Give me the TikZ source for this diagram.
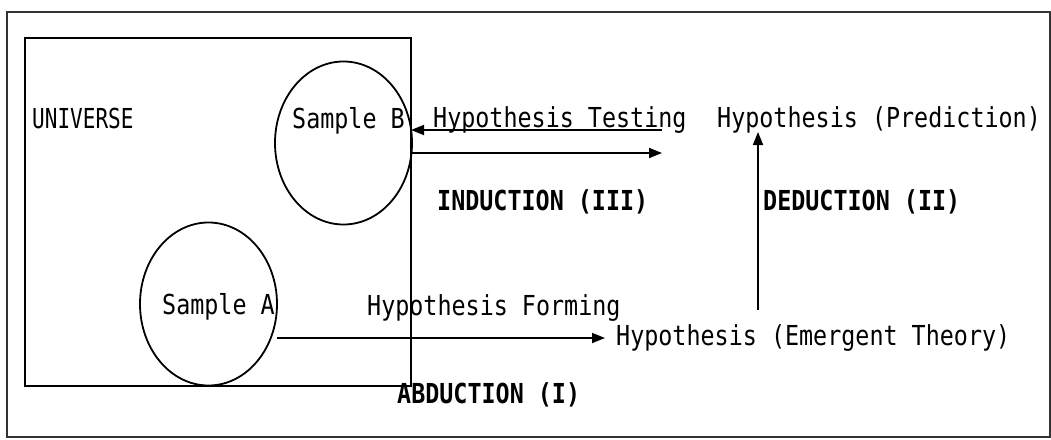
\documentclass[tikz,border=0pt]{standalone}
\usepackage{fontspec}
\newfontfamily\monofam{DejaVu Sans Mono}[FakeStretch=0.85]
\usetikzlibrary{arrows.meta,shapes.geometric}
\begin{document}
\begin{tikzpicture}[x=1pt,y=-1pt,
  label/.style={inner sep=0pt,anchor=base west,font=\monofam\fontsize{27.5}{31}\selectfont},
  boldlabel/.style={label,font=\monofam\bfseries\fontsize{27.5}{31}\selectfont},
  shapeline/.style={line width=1.8pt,black},
  sample/.style={shapeline,draw,ellipse,inner sep=0pt,minimum width=137pt,minimum height=163pt},
  flow/.style={line width=1.8pt,black,-{Triangle[length=13pt,width=10pt]}}]
\useasboundingbox (0,0) rectangle (1051,439);
% outer frame
\draw[line width=2.4pt,black!80] (7,12) rectangle (1050,437);
% universe and the two samples
\node[shapeline,draw,rectangle,inner sep=0pt,minimum width=386pt,minimum height=348pt] (universeBox) at (218,212) {};
\node[sample] (circB) at (343.5,143) {};
\node[sample] (circA) at (208.5,304) {};
% labels
\node[label,xscale=0.9] (universe) at (32,128) {UNIVERSE};
\node[label] (sampleB) at (292,128) {Sample B};
\node[label] (testing) at (433,127) {Hypothesis Testing};
\node[label] (prediction) at (717,127) {Hypothesis (Prediction)};
\node[boldlabel] (induction) at (437,210) {INDUCTION (III)};
\node[boldlabel] (deduction) at (763,210) {DEDUCTION (II)};
\node[label] (sampleA) at (162,314) {Sample A};
\node[label] (forming) at (367,315) {Hypothesis Forming};
\node[label] (emergent) at (616,345) {Hypothesis (Emergent Theory)};
\node[boldlabel] (abduction) at (397,403) {ABDUCTION (I)};
% connector ends
\coordinate (testEnd) at (662,130);
\coordinate (testTip) at (411,130);
\coordinate (indStart) at (411,153);
\coordinate (indTip) at (662,153);
\coordinate (dedStart) at (758,310);
\coordinate (dedTip) at (758,132);
\coordinate (abdStart) at (277,338);
\coordinate (abdTip) at (605,338);
% connectors
\draw[flow] (testEnd) -- (testTip);
\draw[flow] (indStart) -- (indTip);
\draw[flow] (dedStart) -- (dedTip);
\draw[flow] (abdStart) -- (abdTip);
\end{tikzpicture}
\end{document}
